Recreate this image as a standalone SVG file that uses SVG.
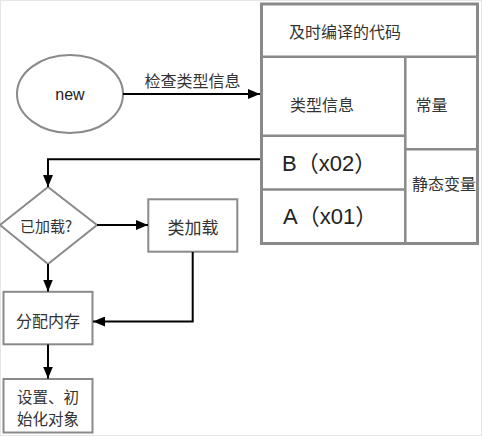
<svg xmlns="http://www.w3.org/2000/svg" width="482" height="436" viewBox="0 0 482 436">
<style>
.box{fill:#fff;stroke:#8a8a8a;stroke-width:2}
.div{fill:none;stroke:#8a8a8a;stroke-width:2.5}
.t{font-family:"Noto Sans CJK SC","Liberation Sans",sans-serif;fill:#333;font-size:16px;dominant-baseline:central}
.lat{font-family:"Liberation Sans","Noto Sans CJK SC",sans-serif;fill:#222}
.c{text-anchor:middle}
.con{fill:none;stroke:#000;stroke-width:2}
</style>
<defs>
<marker id="ah" markerUnits="userSpaceOnUse" markerWidth="12" markerHeight="10" viewBox="0 0 12 10" refX="12" refY="5" orient="auto">
<path d="M0,0 L12,5 L0,10 z" fill="#000"/>
</marker>
</defs>
<rect x="0.5" y="0.5" width="481" height="435" fill="#fff" stroke="#e6e6e6" stroke-width="1"/>
<g id="memory">
<rect x="261.5" y="4" width="216" height="239.5" fill="#fff" stroke="#8a8a8a" stroke-width="3"/>
<line class="div" x1="261.5" y1="56.7" x2="477.5" y2="56.7"/>
<line class="div" x1="405.3" y1="56.7" x2="405.3" y2="243.5"/>
<line class="div" x1="261.5" y1="135.8" x2="405.3" y2="135.8"/>
<line class="div" x1="261.5" y1="189.5" x2="405.3" y2="189.5"/>
<line class="div" x1="405.3" y1="149.3" x2="477.5" y2="149.3"/>
</g>
<g id="jit"><text class="t" x="289" y="31">及时编译的代码</text></g>
<g id="typeinfo"><text class="t" x="290" y="104">类型信息</text></g>
<g id="const"><text class="t" x="415.5" y="104">常量</text></g>
<g id="static"><text class="t" x="412" y="183">静态变量</text></g>
<g id="b"><text class="t lat" x="282" y="163" style="font-size:22px">B（x02）</text></g>
<g id="a"><text class="t lat" x="283" y="216" style="font-size:22px">A（x01）</text></g>
<g id="new">
<ellipse cx="70" cy="94" rx="53" ry="39" fill="#fff" stroke="#8a8a8a" stroke-width="2"/>
<text class="t lat c" x="70" y="94" style="font-size:16px">new</text>
</g>
<g id="loaded">
<polygon points="48,187 97,225 48,264 0,225" fill="#fff" stroke="#8a8a8a" stroke-width="2"/>
<text class="t c" x="46" y="225" style="font-size:15px">已加载?</text>
</g>
<g id="classload">
<rect class="box" x="148.3" y="199.3" width="89" height="52.4"/>
<text class="t c" x="193" y="226" style="font-size:17px">类加载</text>
</g>
<g id="alloc">
<rect class="box" x="3.5" y="291.8" width="89" height="52.5"/>
<text class="t c" x="48" y="320">分配内存</text>
</g>
<g id="init">
<rect class="box" x="3.5" y="379" width="89" height="53.5"/>
<text class="t c" x="48" y="395.5" style="font-size:15.5px">设置、初</text>
<text class="t c" x="48" y="418" style="font-size:15.5px">始化对象</text>
</g>
<g id="connectors">
<line class="con" x1="123" y1="94" x2="260" y2="94" marker-end="url(#ah)"/>
<text class="t c" x="192.5" y="80">检查类型信息</text>
<polyline class="con" points="260,159.3 48,159.3 48,187" marker-end="url(#ah)"/>
<line class="con" x1="97" y1="225" x2="148" y2="225" marker-end="url(#ah)"/>
<line class="con" x1="48" y1="264" x2="48" y2="291.5" marker-end="url(#ah)"/>
<polyline class="con" points="192.7,252 192.7,321.5 93,321.5" marker-end="url(#ah)"/>
<line class="con" x1="48" y1="344.5" x2="48" y2="378.5" marker-end="url(#ah)"/>
</g>
</svg>
